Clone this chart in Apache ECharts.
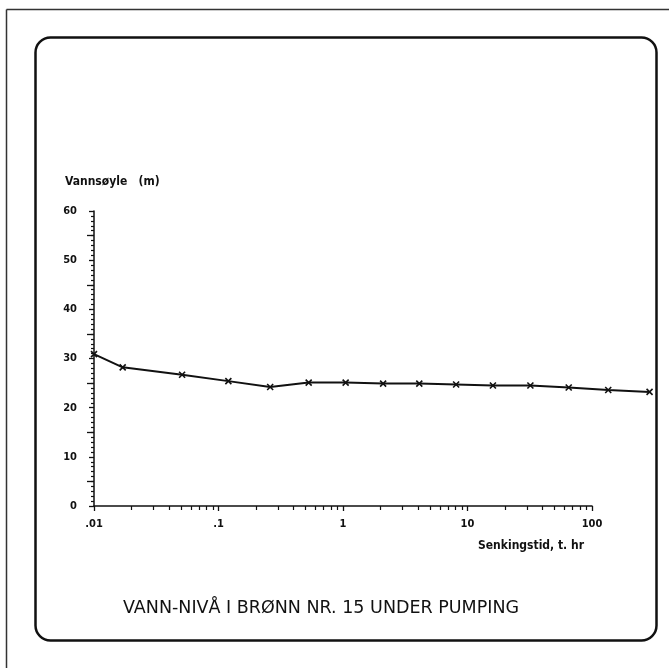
<!DOCTYPE html>
<html>
<head>
<meta charset="utf-8">
<script src="https://cdn.jsdelivr.net/npm/echarts@6/dist/echarts.min.js"></script>
<style>
  html, body { margin: 0; padding: 0; background: #fff; }
  #chart { width: 669px; height: 668px; }
</style>
</head>
<body>
<div id="chart"></div>
<script>
// drawdown time, hours
var hours = [0.01, 0.017, 0.051, 0.12, 0.26, 0.53, 1.05, 2.1, 4.1, 8.1, 16, 32, 65, 135, 290];
// water column, m
var waterColumn = [30.9, 28.2, 26.7, 25.4, 24.2, 25.1, 25.1, 24.9, 24.9, 24.7, 24.5, 24.5, 24.1, 23.6, 23.2];

var xLabelValues = [0.01, 0.1, 1, 10, 100];
var xLabelTexts = ['.01', '.1', '1', '10', '100'];
var xMinorValues = [
  0.02, 0.03, 0.04, 0.05, 0.06, 0.07, 0.08, 0.09,
  0.2, 0.3, 0.4, 0.5, 0.6, 0.7, 0.8, 0.9,
  2, 3, 4, 5, 6, 7, 8, 9,
  20, 30, 40, 50, 60, 70, 80, 90
];
var yHalfTicks = [5, 15, 25, 35, 45, 55];

var titleText = 'VANN-NIVÅ I BRØNN NR. 15 UNDER PUMPING';
var yName = 'Vannsøyle   (m)';
var xName = 'Senkingstid, t. hr';

var font = '"DejaVu Sans Condensed", "DejaVu Sans", sans-serif';

// visible axis spans .01 - 100 (4 decades); the curve runs on past 100,
// so it sits in a second, wider grid that shares the same scale
var decade = 124.5;
var xMin = 0.01, xMax = 100, xMaxData = Math.pow(10, 2.5);

var myChart = echarts.init(document.getElementById('chart'));

var points = hours.map(function (h, i) { return [h, waterColumn[i]]; });

myChart.setOption({
  animation: false,
  backgroundColor: '#fff',
  grid: [
    { left: 94, width: decade * 4, top: 211, bottom: 162 },
    { left: 94, width: decade * 4.5, top: 211, bottom: 162 }
  ],
  xAxis: [
    {
      type: 'log',
      logBase: 10,
      gridIndex: 0,
      min: xMin,
      max: xMax,
      axisLine: { lineStyle: { color: '#111', width: 1.5 } },
      axisTick: { show: true, length: 5, customValues: xLabelValues, lineStyle: { color: '#111', width: 1.3 } },
      splitLine: { show: false },
      axisLabel: {
        customValues: xLabelValues,
        margin: 13,
        color: '#111',
        fontFamily: font,
        fontWeight: 'bold',
        fontSize: 11,
        formatter: function (v) {
          var idx = xLabelValues.indexOf(v);
          return idx >= 0 ? xLabelTexts[idx] : '';
        }
      }
    },
    {
      type: 'log',
      logBase: 10,
      gridIndex: 0,
      min: xMin,
      max: xMax,
      position: 'bottom',
      offset: 0,
      axisLine: { show: false },
      axisTick: { show: true, length: 4, customValues: xMinorValues, lineStyle: { color: '#111', width: 1.2 } },
      axisLabel: { show: false },
      splitLine: { show: false }
    },
    {
      type: 'log',
      logBase: 10,
      gridIndex: 1,
      min: xMin,
      max: xMaxData,
      show: false
    }
  ],
  yAxis: [
    {
      type: 'value',
      gridIndex: 0,
      min: 0,
      max: 60,
      interval: 10,
      axisLine: { show: true, lineStyle: { color: '#111', width: 1.5 } },
      axisTick: { show: true, length: 5, lineStyle: { color: '#111', width: 1.3 } },
      minorTick: { show: true, splitNumber: 10, length: 3, lineStyle: { color: '#111', width: 1.2 } },
      splitLine: { show: false },
      axisLabel: {
        margin: 17,
        color: '#111',
        fontFamily: font,
        fontWeight: 'bold',
        fontSize: 11
      }
    },
    {
      type: 'value',
      gridIndex: 0,
      min: 0,
      max: 60,
      position: 'left',
      offset: 0,
      axisLine: { show: false },
      axisTick: { show: true, length: 7, customValues: yHalfTicks, lineStyle: { color: '#111', width: 1.3 } },
      axisLabel: { show: false },
      splitLine: { show: false }
    },
    {
      type: 'value',
      gridIndex: 1,
      min: 0,
      max: 60,
      show: false
    }
  ],
  graphic: [
    { type: 'line', shape: { x1: 6.5, y1: 9.5, x2: 669, y2: 9.5 }, style: { stroke: '#333', lineWidth: 1.5 } },
    { type: 'line', shape: { x1: 6.5, y1: 9.5, x2: 6.5, y2: 668 }, style: { stroke: '#333', lineWidth: 1.5 } },
    {
      type: 'rect',
      shape: { x: 35.5, y: 37.5, width: 621, height: 603, r: 15 },
      style: { fill: 'none', stroke: '#111', lineWidth: 2.5 }
    },
    {
      type: 'text', x: 65, y: 182,
      style: { text: yName, fill: '#111', font: 'bold 12px ' + font, textVerticalAlign: 'middle' }
    },
    {
      type: 'text', x: 478, y: 546,
      style: { text: xName, fill: '#111', font: 'bold 12px ' + font, textVerticalAlign: 'middle' }
    },
    {
      type: 'text', x: 123, y: 608,
      style: { text: titleText, fill: '#111', font: '17.5px "DejaVu Sans", sans-serif', textVerticalAlign: 'middle' }
    }
  ],
  series: [
    {
      type: 'line',
      xAxisIndex: 2,
      yAxisIndex: 2,
      data: points,
      symbol: 'path://M0,0L10,10M10,0L0,10',
      symbolSize: 6,
      itemStyle: { color: '#111', borderColor: '#111', borderWidth: 1.6 },
      lineStyle: { color: '#111', width: 2 }
    }
  ]
});
</script>
</body>
</html>
